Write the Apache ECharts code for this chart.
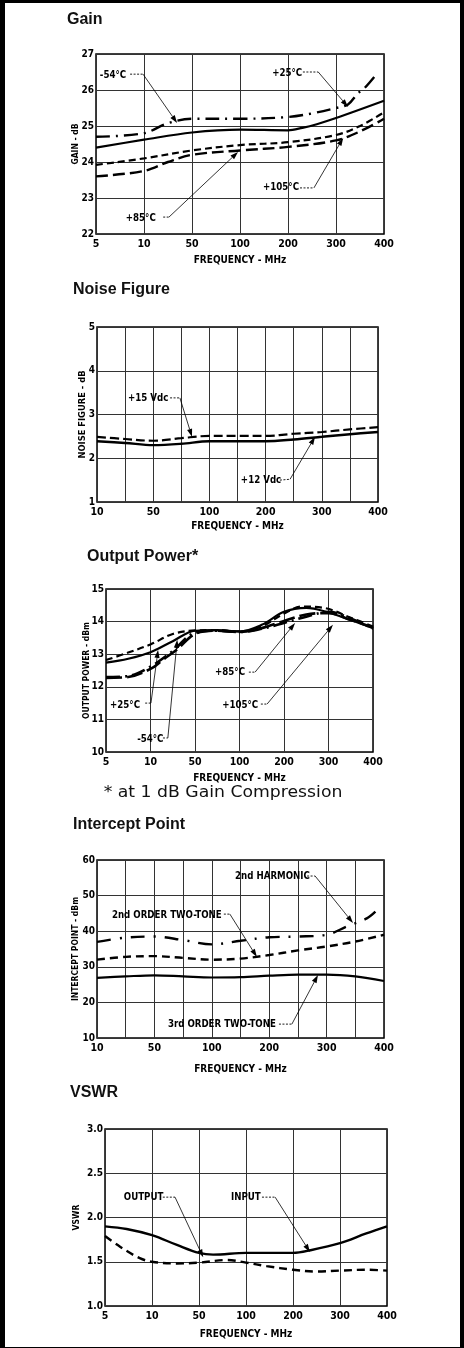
<!DOCTYPE html>
<html><head><meta charset="utf-8">
<script src="https://cdn.jsdelivr.net/npm/echarts@6/dist/echarts.min.js"></script>
<style>
html,body{margin:0;padding:0;background:#000;width:464px;height:1348px;overflow:hidden;}
#paper{position:absolute;left:5px;top:3px;width:455px;height:1344px;background:#fff;}
#chart{position:absolute;left:0;top:0;width:464px;height:1348px;}
</style></head><body>
<div id="paper"></div><div id="chart"></div>
<script>
// ---------- data ----------
const freq7 = ['5','10','50','100','200','300','400'];
const freq6 = ['10','50','100','200','300','400'];

// Gain (dB) – x = position index on the chart's frequency scale
const gainM54  = [[0,24.7],[1,24.8],[1.5,25.08],[2,25.2],[3,25.2],[4,25.25],[4.5,25.35],[5,25.5],[5.25,25.6],[5.45,25.9],[5.6,26.06],[5.85,26.45]];
const gainP25  = [[0,24.4],[1,24.62],[2,24.82],[3,24.9],[4,24.88],[4.3,24.95],[4.6,25.05],[5,25.22],[6,25.7]];
const gainP85  = [[0,23.92],[1,24.1],[2,24.32],[3,24.47],[4,24.55],[5,24.75],[5.5,25.0],[6,25.38]];
const gainP105 = [[0,23.6],[1,23.75],[1.5,24.0],[2,24.2],[3,24.32],[4,24.42],[5,24.6],[5.5,24.85],[6,25.2]];

// Noise figure (dB)
const nf15 = [[0,2.49],[1,2.44],[2,2.4],[3,2.46],[4,2.51],[5,2.51],[6,2.51],[7,2.56],[8,2.6],[9,2.66],[10,2.71]];
const nf12 = [[0,2.39],[1,2.35],[2,2.3],[3,2.33],[4,2.39],[5,2.39],[6,2.39],[7,2.43],[8,2.49],[9,2.55],[10,2.6]];

// Output power (dBm)
const opP25  = [[0,12.74],[0.5,12.86],[1,13.06],[1.5,13.4],[2,13.72],[2.5,13.74],[3,13.7],[3.5,13.9],[4,14.3],[4.5,14.42],[5,14.28],[5.5,14.05],[6,13.8]];
const opP85  = [[0,12.82],[0.5,13.05],[1,13.3],[1.5,13.62],[2,13.73],[2.5,13.74],[3,13.7],[3.5,13.85],[4,14.25],[4.4,14.46],[4.9,14.42],[5.5,14.12],[6,13.85]];
const opP105 = [[0,12.3],[0.5,12.33],[1,12.62],[1.5,13.1],[2,13.66],[2.5,13.72],[3,13.68],[3.5,13.78],[4,13.96],[4.5,14.15],[5,14.3],[5.5,14.1],[6,13.78]];
const opM54  = [[0,12.27],[0.5,12.3],[1,12.55],[1.3,12.85],[1.6,13.15],[2,13.62],[2.5,13.72],[3,13.68],[3.5,13.8],[4,14.02],[4.5,14.22],[5,14.26],[5.5,14.05],[6,13.82]];

// Intercept point (dBm)
const ip2Harm = [[0,37],[1,38.2],[2,38.5],[3,37.5],[4,36.3],[5,37.3],[6,38.3],[7,38.5],[8,39],[8.7,41.3],[9.4,43.6],[9.7,45.5]];
const ip2Tone = [[0,32],[1,32.8],[2,33],[3,32.5],[4,32],[5,32.3],[6,33.3],[7,34.6],[8,35.7],[9,37.1],[10,39]];
const ip3Tone = [[0,26.9],[1,27.3],[2,27.6],[3,27.3],[4,27],[5,27.1],[6,27.5],[7,27.8],[8,27.8],[9,27.3],[10,26]];

// VSWR
const vswrIn  = [[0,1.9],[0.46,1.87],[1,1.8],[1.53,1.69],[2,1.6],[2.3,1.58],[3,1.6],[4,1.6],[4.37,1.63],[5,1.71],[5.56,1.82],[6,1.9]];
const vswrOut = [[0,1.79],[0.32,1.67],[0.74,1.54],[1,1.5],[1.53,1.48],[2,1.49],[2.59,1.52],[3,1.49],[3.44,1.45],[4,1.41],[4.5,1.39],[5,1.4],[5.56,1.41],[6,1.4]];

// callouts: label, text anchor (left-middle), leader points (data coords)
const callouts = [
  {g:0, label:'-54°C',  at:[0.08,26.42], pts:[[0.71,26.44],[0.98,26.44],[1.69,25.08]]},
  {g:0, label:'+25°C',  at:[3.67,26.47], pts:[[4.31,26.5],[4.63,26.5],[5.25,25.53]]},
  {g:0, label:'+85°C',  at:[0.62,22.44], pts:[[1.4,22.47],[1.52,22.47],[2.96,24.28]]},
  {g:0, label:'+105°C', at:[3.48,23.31], pts:[[4.25,23.28],[4.54,23.28],[5.15,24.67]]},
  {g:1, label:'+15 Vdc', at:[1.1,3.38], pts:[[2.6,3.38],[2.95,3.38],[3.38,2.49]]},
  {g:1, label:'+12 Vdc', at:[5.12,1.5], pts:[[6.51,1.5],[6.87,1.52],[7.76,2.49]]},
  {g:2, label:'+25°C',  at:[0.09,11.44], pts:[[0.88,11.5],[1.01,11.5],[1.17,13.13]]},
  {g:2, label:'-54°C',  at:[0.7,10.4],   pts:[[1.28,10.43],[1.39,10.43],[1.6,13.44]]},
  {g:2, label:'+85°C',  at:[2.45,12.45], pts:[[3.21,12.45],[3.35,12.45],[4.25,13.96]]},
  {g:2, label:'+105°C', at:[2.61,11.44], pts:[[3.48,11.47],[3.62,11.47],[5.1,13.9]]},
  {g:3, label:'2nd HARMONIC', at:[4.81,55.5], pts:[[7.32,55.5],[7.6,55.5],[8.92,42.3]]},
  {g:3, label:'2nd ORDER TWO-TONE', at:[0.52,44.55], pts:[[4.42,44.8],[4.63,44.8],[5.57,32.75]]},
  {g:3, label:'3rd ORDER TWO-TONE', at:[2.47,13.9], pts:[[6.34,13.9],[6.79,13.9],[7.7,27.7]]},
  {g:4, label:'OUTPUT', at:[0.4,2.23], pts:[[1.23,2.23],[1.49,2.23],[2.09,1.55]]},
  {g:4, label:'INPUT',  at:[2.68,2.23], pts:[[3.34,2.23],[3.62,2.23],[4.36,1.61]]}
];

// ---------- styling ----------
const FONT = "'DejaVu Sans Condensed','Liberation Sans Narrow',sans-serif";
const TITLEFONT = "'Liberation Sans',Arial,Helvetica,sans-serif";
const chart = echarts.init(document.getElementById('chart'), null, {renderer:'canvas'});

const grids = [
  {left:96,  top:54,   width:288, height:180},
  {left:97,  top:327,  width:281, height:175},
  {left:106, top:589,  width:267, height:163},
  {left:97,  top:860,  width:287, height:178},
  {left:105, top:1129, width:282, height:177}
];
const xCfg = [
  {max:6,  lab: v => freq7[v], gap:21},
  {max:10, lab: v => v % 2 === 0 ? freq6[v/2] : '', gap:19},
  {max:6,  lab: v => freq7[v], gap:21},
  {max:10, lab: v => v % 2 === 0 ? freq6[v/2] : '', gap:26},
  {max:6,  lab: v => freq7[v], gap:23}
];
const yCfg = [
  {min:22, max:27, interval:1,  name:'GAIN - dB', gap:16, fs:8.5},
  {min:1,  max:5,  interval:1,  name:'NOISE FIGURE - dB', gap:10, fs:9.3},
  {min:10, max:15, interval:1,  name:'OUTPUT POWER - dBm', gap:15, fs:8.5},
  {min:10, max:60, interval:10, name:'INTERCEPT POINT - dBm', gap:17, fs:8.5},
  {min:1,  max:3,  interval:0.5, name:'VSWR', gap:24, fs:8.5, fmt: v=>v.toFixed(1)}
];

const txt = {color:'#000', fontFamily:FONT, fontWeight:'bold', fontSize:10.5};

const option = {
  animation:false,
  backgroundColor:'transparent',
  title:[
    {text:'Gain', left:67, top:12},
    {text:'Noise Figure', left:73, top:282},
    {text:'Output Power*', left:87, top:549},
    {text:'Intercept Point', left:73, top:817},
    {text:'VSWR', left:70, top:1085}
  ].map(t => Object.assign({padding:0, textStyle:{fontFamily:TITLEFONT, fontWeight:'bold', fontSize:16, color:'#111'}}, t)),
  grid: grids.map(g => Object.assign({show:true, borderColor:'#000', borderWidth:1.5, backgroundColor:'transparent', containLabel:false}, g)),
  xAxis: xCfg.map((c,i) => ({
    gridIndex:i, type:'value', min:0, max:c.max, interval:1,
    axisLine:{show:false}, axisTick:{show:false},
    splitLine:{show:true, lineStyle:{color:'#333', width:1}},
    axisLabel:Object.assign({margin:5, formatter: v => c.lab(Math.round(v)) || ''}, txt),
    name:'FREQUENCY - MHz', nameLocation:'middle', nameGap:c.gap, nameMoveOverlap:false,
    nameTextStyle:Object.assign({}, txt, {fontSize:10})
  })),
  yAxis: yCfg.map((c,i) => ({
    gridIndex:i, type:'value', min:c.min, max:c.max, interval:c.interval,
    axisLine:{show:false}, axisTick:{show:false},
    splitLine:{show:true, lineStyle:{color:'#333', width:1}},
    axisLabel:Object.assign({}, txt, {margin:2, fontSize:10, formatter: c.fmt || (v=>String(v))}),
    name:c.name, nameLocation:'middle', nameRotate:90, nameGap:c.gap, nameMoveOverlap:false,
    nameTextStyle:Object.assign({}, txt, {fontSize:c.fs})
  })),
  series: []
};

function line(gi, data, type, width) {
  option.series.push({
    type:'line', xAxisIndex:gi, yAxisIndex:gi, data:data, smooth:0.35,
    symbol:'none', silent:true,
    lineStyle:{color:'#000', width:width || 2.2, type:type, cap:'butt'}
  });
}
line(0, gainM54,  [14,6,2,6], 2.4);
line(0, gainP25,  'solid', 2.2);
line(0, gainP85,  [7,4], 2.2);
line(0, gainP105, [12,5], 2.4);
line(1, nf15, [9,4], 2.2);
line(1, nf12, 'solid', 2.4);
line(2, opP25, 'solid', 2.2);
line(2, opP85, [7,4], 2.2);
line(2, opP105, [14,5,2,5], 2.6);
line(2, opM54, [16,5], 2.6);
line(3, ip2Harm, [14,9,2,9], 2.4);
line(3, ip2Tone, [8,5], 2.4);
line(3, ip3Tone, 'solid', 2.2);
line(4, vswrIn, 'solid', 2.4);
line(4, vswrOut, [8,5], 2.4);

chart.setOption(option);

// callouts drawn through the grid coordinate systems
const gfx = [];
callouts.forEach(c => {
  const cv = p => chart.convertToPixel({gridIndex:c.g}, p);
  const t = cv(c.at), p0 = cv(c.pts[0]), p1 = cv(c.pts[1]), p2 = cv(c.pts[2]);
  gfx.push({type:'text', z:100, x:t[0], y:t[1], scaleX:0.875,
    style:{text:c.label, fill:'#000', font:'bold 11px ' + FONT, verticalAlign:'middle', align:'left'}});
  gfx.push({type:'line', z:100, shape:{x1:p0[0], y1:p0[1], x2:p1[0], y2:p1[1]},
    style:{stroke:'#000', lineWidth:0.9, lineDash:[2,1.5]}});
  const dx = p2[0]-p1[0], dy = p2[1]-p1[1], L = Math.hypot(dx,dy);
  const ux = dx/L, uy = dy/L, nx = -uy, ny = ux;
  const al = 8, aw = 2.6;
  const bx = p2[0]-ux*al, by = p2[1]-uy*al;
  gfx.push({type:'line', z:100, shape:{x1:p1[0], y1:p1[1], x2:bx, y2:by},
    style:{stroke:'#000', lineWidth:0.8}});
  gfx.push({type:'polygon', z:100, shape:{points:[[p2[0],p2[1]],[bx+nx*aw,by+ny*aw],[bx-nx*aw,by-ny*aw]]},
    style:{fill:'#000'}});
});
// footnote under the Output Power chart
gfx.push({type:'text', z:100, x:223, y:793, scaleX:1.15,
  style:{text:'* at 1 dB Gain Compression', fill:'#111', font:"15px 'DejaVu Sans',sans-serif", align:'center', verticalAlign:'middle'}});
chart.setOption({graphic: gfx});
</script>
</body></html>
